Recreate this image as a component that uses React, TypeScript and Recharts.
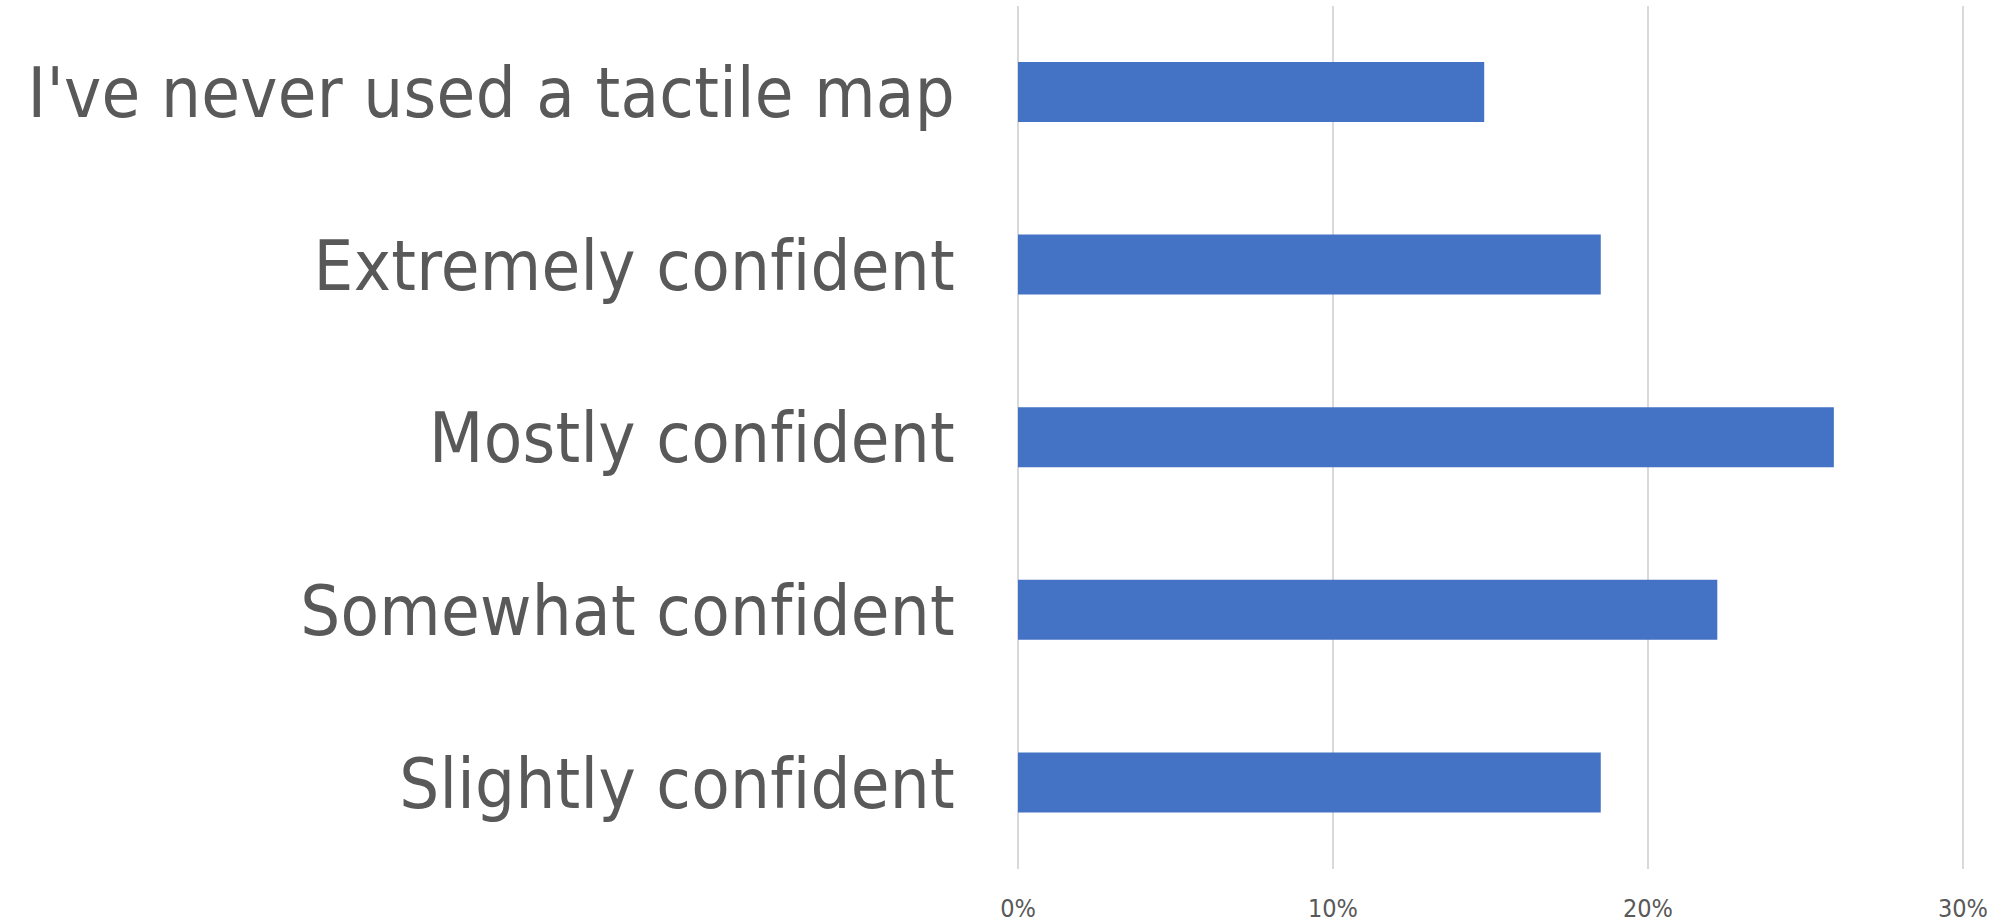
import React from 'react';
import { BarChart, Bar, XAxis, YAxis, CartesianGrid } from 'recharts';

const categories = [
  "I've never used a tactile map",
  'Extremely confident',
  'Mostly confident',
  'Somewhat confident',
  'Slightly confident',
];
const percentValues = [14.8, 18.5, 25.9, 22.2, 18.5];
const xTicks = [0, 10, 20, 30];

const data = categories.map((name, i) => ({ name, value: percentValues[i] }));

export default function App() {
  return (
    <div style={{ position: 'absolute', left: 0, top: 0, background: '#fff' }}>
      <BarChart
        width={2003}
        height={924}
        data={data}
        layout="vertical"
        margin={{ top: 6, right: 40, bottom: 5, left: 0 }}
        barSize={60}
      >
        <CartesianGrid horizontal={false} stroke="#d9d9d9" strokeWidth={2} />
        <XAxis
          type="number"
          domain={[0, 30]}
          ticks={xTicks}
          tickFormatter={(v: number) => `${v}%`}
          axisLine={false}
          tickLine={false}
          tickSize={0}
          tickMargin={30}
          height={50}
          interval={0}
          tick={{ fill: '#595959', fontSize: 25, fontFamily: 'DejaVu Sans Condensed' }}
        />
        <YAxis
          type="category"
          dataKey="name"
          width={1018}
          axisLine={false}
          tickLine={false}
          tickSize={0}
          tickMargin={63}
          interval={0}
          tick={{ fill: '#595959', fontSize: 70, fontFamily: 'DejaVu Sans Condensed', letterSpacing: 0.3 }}
        />
        <Bar dataKey="value" fill="#4472C4" isAnimationActive={false} />
      </BarChart>
    </div>
  );
}
